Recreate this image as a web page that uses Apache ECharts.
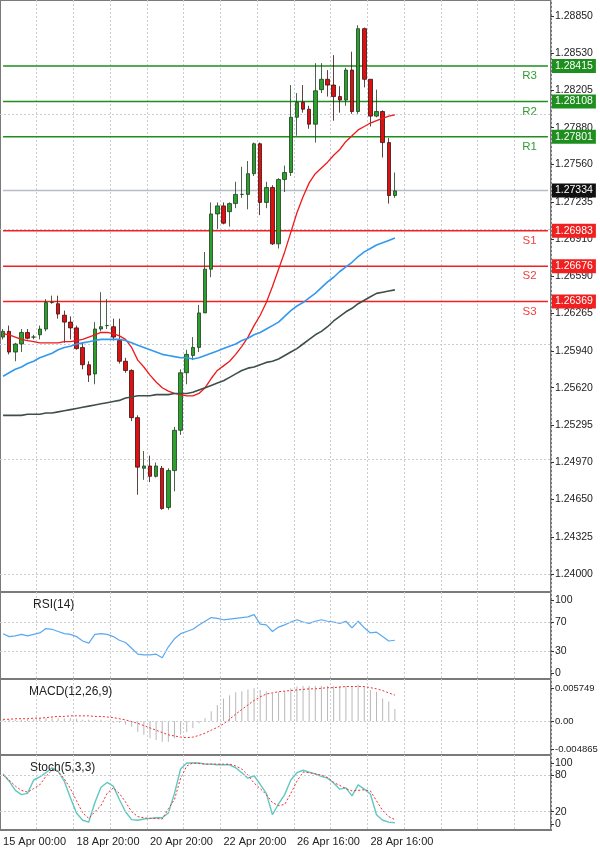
<!DOCTYPE html>
<html><head><meta charset="utf-8">
<script src="https://cdn.jsdelivr.net/npm/echarts@6/dist/echarts.min.js"></script>
<style>html,body{margin:0;padding:0;background:#fff}#c{width:600px;height:848px}</style>
</head><body><div id="c"></div>
<script>
// ---- data ----
const dateLabels = ['15 Apr 00:00','18 Apr 20:00','20 Apr 20:00','22 Apr 20:00','26 Apr 16:00','28 Apr 16:00'];
// [open, close, low, high]
const ohlc = [
[1.2606,1.2611,1.2604,1.2613],[1.2611,1.2593,1.2591,1.2616],[1.2593,1.2600,1.2585,1.2601],[1.2600,1.2610,1.2593,1.2613],
[1.2610,1.2605,1.2604,1.2613],[1.2606,1.2606,1.2604,1.2608],[1.2608,1.2613,1.2604,1.2616],[1.2613,1.2636,1.2611,1.2639],
[1.2636,1.2636,1.2635,1.2642],[1.2635,1.2626,1.2622,1.2642],[1.2625,1.2619,1.2601,1.2629],[1.2619,1.2614,1.2604,1.2624],
[1.2614,1.2596,1.2595,1.2616],[1.2597,1.2582,1.2578,1.2601],[1.2582,1.2573,1.2567,1.2585],[1.2574,1.2613,1.2565,1.2619],
[1.2613,1.2615,1.2611,1.2645],[1.2616,1.2616,1.2613,1.2639],[1.2615,1.2606,1.2603,1.2622],[1.2603,1.2585,1.2583,1.2622],
[1.2585,1.2577,1.2575,1.2588],[1.2577,1.2536,1.2533,1.2578],[1.2536,1.2493,1.2469,1.2538],[1.2492,1.2494,1.2482,1.2507],
[1.2494,1.2485,1.2480,1.2503],[1.2485,1.2494,1.2484,1.2497],[1.2492,1.2457,1.2456,1.2494],[1.2458,1.2490,1.2456,1.2492],
[1.2490,1.2525,1.2472,1.2528],[1.2525,1.2575,1.2521,1.2578],[1.2575,1.2591,1.2565,1.2595],[1.2590,1.2597,1.2586,1.2606],
[1.2597,1.2627,1.2593,1.2634],[1.2627,1.2665,1.2627,1.2680],[1.2665,1.2713,1.2658,1.2723],[1.2713,1.2720,1.2700,1.2723],
[1.2720,1.2705,1.2704,1.2723],[1.2715,1.2722,1.2702,1.2723],[1.2722,1.2730,1.2718,1.2741],[1.2730,1.2730,1.2727,1.2754],
[1.2730,1.2748,1.2717,1.2759],[1.2748,1.2774,1.2746,1.2775],[1.2774,1.2723,1.2712,1.2775],[1.2723,1.2736,1.2718,1.2741],
[1.2736,1.2687,1.2686,1.2738],[1.2687,1.2743,1.2683,1.2744],[1.2743,1.2749,1.2732,1.2755],[1.2749,1.2797,1.2746,1.2825],
[1.2797,1.2810,1.2781,1.2818],[1.2810,1.2804,1.2801,1.2825],[1.2804,1.2791,1.2787,1.2807],[1.2791,1.2820,1.2775,1.2844],
[1.2821,1.2830,1.2818,1.2844],[1.2830,1.2825,1.2815,1.2838],[1.2825,1.2815,1.2794,1.2851],[1.2815,1.2812,1.2801,1.2824],
[1.2812,1.2838,1.2807,1.2840],[1.2838,1.2802,1.2800,1.2854],[1.2802,1.2874,1.2800,1.2877],[1.2874,1.2830,1.2823,1.2875],
[1.2830,1.2798,1.2789,1.2830],[1.2798,1.2802,1.2797,1.2821],[1.2802,1.2775,1.2762,1.2803],[1.2775,1.2729,1.2722,1.2779],
[1.2729,1.2733,1.2727,1.2749]
];
const maRed = [1.2609,1.2608,1.2606,1.2604,1.2603,1.2602,1.2601,1.2601,1.2601,1.2601,
1.2602,1.2602,1.2603,1.2604,1.2606,1.2608,1.2610,1.2610,1.2609,1.2607,
1.2604,1.2597,1.2586,1.2580,1.2573,1.2567,1.2562,1.2559,1.2557,1.2556,
1.2555,1.2555,1.2557,1.2562,1.2570,1.2577,1.2581,1.2585,1.2591,1.2598,
1.2606,1.2616,1.2625,1.2636,1.2650,1.2665,1.2680,1.2697,1.2714,1.2728,
1.2740,1.2748,1.2753,1.2758,1.2764,1.2769,1.2776,1.2781,1.2786,1.2789,
1.2792,1.2794,1.2796,1.2798,1.2799];
const maBlue = [1.2572,1.2575,1.2578,1.2580,1.2583,1.2585,1.2588,1.2590,1.2592,1.2595,
1.2597,1.2598,1.2600,1.2601,1.2602,1.2603,1.2604,1.2604,1.2604,1.2604,
1.2603,1.2601,1.2599,1.2597,1.2595,1.2593,1.2591,1.2590,1.2589,1.2588,
1.2588,1.2587,1.2588,1.2590,1.2592,1.2594,1.2596,1.2598,1.2600,1.2603,
1.2605,1.2608,1.2610,1.2613,1.2616,1.2619,1.2624,1.2629,1.2633,1.2636,
1.2640,1.2644,1.2649,1.2654,1.2658,1.2663,1.2667,1.2671,1.2676,1.2680,
1.2683,1.2686,1.2688,1.2690,1.2692];
const maGrey = [1.2538,1.2538,1.2538,1.2538,1.2539,1.2539,1.2539,1.2540,1.2540,1.2541,
1.2542,1.2543,1.2544,1.2545,1.2546,1.2547,1.2548,1.2549,1.2550,1.2551,
1.2553,1.2554,1.2555,1.2555,1.2555,1.2556,1.2556,1.2556,1.2557,1.2557,
1.2557,1.2558,1.2560,1.2562,1.2564,1.2566,1.2568,1.2571,1.2574,1.2577,
1.2579,1.2580,1.2582,1.2584,1.2585,1.2587,1.2590,1.2593,1.2596,1.2600,
1.2604,1.2608,1.2611,1.2615,1.2620,1.2624,1.2628,1.2631,1.2635,1.2638,
1.2641,1.2644,1.2645,1.2646,1.2647];
const rsi = [54,50,51,53,51,53,55,61,60,57,54,53,50,44,41,53,54,53,50,45,42,34,26,25,25,26,21,36,47,54,
57,60,66,71,76,75,73,74,75,76,77,80,67,66,57,63,66,70,73,70,68,71,73,71,70,68,71,62,71,62,55,56,50,44,45];
const macdHist = [0.0002,0.0002,0.0002,0.0002,0.0003,0.0003,0.0005,0.0005,0.0005,0.0005,0.0005,0.0005,0.0004,0.0002,0.0002,0.0002,0.0002,0.0001,-0.0003,-0.0003,
-0.0006,-0.0010,-0.0019,-0.0024,-0.0030,-0.0033,-0.0036,-0.0036,-0.0030,-0.0024,-0.0019,-0.0012,-0.0004,0.0005,0.0017,0.0028,0.0039,0.0045,0.0050,0.0052,
0.0055,0.0057,0.0054,0.0052,0.0048,0.0050,0.0052,0.0057,0.0060,0.0061,0.0061,0.0061,0.0061,0.0061,0.0061,0.0061,0.0061,0.0060,0.0063,0.0060,
0.0054,0.0051,0.0039,0.0034,0.0021];
const macdSignal = [0.0003,0.0003,0.0004,0.0004,0.0004,0.0005,0.0005,0.0006,0.0007,0.0008,0.0008,0.0009,0.0009,0.0009,0.0009,0.0008,0.0008,0.0007,0.0006,0.0004,
0.0002,-0.0001,-0.0004,-0.0008,-0.0012,-0.0016,-0.0020,-0.0024,-0.0026,-0.0028,-0.0029,-0.0028,-0.0025,-0.0021,-0.0016,-0.0011,-0.0005,0.0003,0.0012,0.0020,
0.0028,0.0036,0.0042,0.0047,0.0049,0.0051,0.0052,0.0053,0.0054,0.0055,0.0056,0.0056,0.0057,0.0058,0.0058,0.0059,0.0060,0.0060,0.0060,0.0060,
0.0058,0.0056,0.0053,0.0049,0.0045];
const stochK = [82,70,55,48,50,72,77,84,92,86,70,43,18,6,3,35,60,68,62,40,20,7,6,8,9,10,10,18,50,90,
100,100,100,98,98,97,97,97,92,84,75,79,65,50,15,33,48,72,84,88,85,82,78,75,67,57,59,46,64,57,49,15,6,3,2];
const stochD = [80,72,62,55,52,58,64,78,88,86,74,58,38,18,9,20,30,50,59,50,36,20,12,10,9,9,8,25,40,75,
95,100,99,98,98,98,98,98,95,90,80,67,58,48,35,30,32,50,70,85,84,82,80,76,68,63,58,54,55,56,54,38,22,12,7];
const levelsR = [['R3',1.28415],['R2',1.28108],['R1',1.27801]];
const levelsS = [['S1',1.26983],['S2',1.26676],['S3',1.26369]];
const lastPrice = 1.27334;
const priceTicks = [1.28850,1.28530,1.28205,1.27880,1.27560,1.27235,1.26910,1.26590,1.26265,1.25940,1.25620,1.25295,1.24970,1.24650,1.24325,1.24000];
const rsiTicks = [100,70,30,0];
const macdTicks = [0.005749,0,-0.004865];
const stochTicks = [100,80,20,0];
const NCAT = 90;

// ---- build ----
const cats = [];
for (let i = 0; i < NCAT; i++) cats.push(i % 12 === 0 && dateLabels[i/12] ? dateLabels[i/12] : ' ' + i);
const font = 'DejaVu Sans';
const axFont = 'Liberation Sans';
const gridCol = '#c9ccd3';
function gridLines(vals){ return vals.map(v=>({yAxis:v})); }
function xAx(gi, showLabel){
  return {type:'category', gridIndex:gi, data:cats, boundaryGap:true,
    axisLine:{show:false}, axisTick:{show:false},
    axisLabel:{show:showLabel, interval:(i)=>i%12===0 && i<72, align:'left', margin:6, color:'#222', fontSize:11, fontFamily:axFont,
      formatter:(v)=>v.trim().match(/^\d+$/)?'':v},
    splitLine:{show:true, interval:(i)=>i%6===0 && i>0, lineStyle:{color:gridCol, type:[2,2]}}};
}
function yAx(gi, min, max, ticks, fmt, fs){
  return {type:'value', gridIndex:gi, position:'right', min, max, scale:true,
    axisLine:{show:false}, splitLine:{show:false},
    axisTick:{show:true, customValues:ticks, length:3, lineStyle:{color:'#333'}},
    axisLabel:{customValues:ticks, color:'#222', fontSize:fs||10.5, fontFamily:axFont, margin:4, formatter:fmt}};
}
const gridStyle = {show:true, borderColor:'#7a7a7a', borderWidth:2, left:0, right:49, containLabel:false, outerBoundsMode:'none'};
const markSilent = {silent:true, symbol:['none','none'], animation:false};

const series = [
  {type:'line', xAxisIndex:0, yAxisIndex:0, data:[], markLine:Object.assign({data:gridLines(priceTicks), label:{show:false}, lineStyle:{color:gridCol, type:[2,2], width:1}}, markSilent)},
  {type:'candlestick', xAxisIndex:0, yAxisIndex:0, data:ohlc, barWidth:4, z:5,
    itemStyle:{color:'#2ca02c', color0:'#e01010', borderColor:'#1f3d1f', borderColor0:'#3a1010', borderWidth:0.8}}
];
// level lines drawn as flat line series across all categories
function addLevel(name, v, color, textColor, boxColor, z){
  const data = cats.map((c,i)=> i === NCAT-4 && name ?
    {value:v, label:{show:true, position:'bottom', distance:4, formatter:name, color:textColor, fontSize:11.5, fontFamily:axFont}} : v);
  series.push({type:'line', xAxisIndex:0, yAxisIndex:0, data, z, silent:true,
    showSymbol:true, symbol:'circle', symbolSize:0, lineStyle:{color, width:1.5},
    endLabel:{show:true, distance:4, formatter:v.toFixed(5), color:'#fff', backgroundColor:boxColor, padding:[2,3,1,3], fontSize:10.5, fontFamily:axFont}});
}
levelsR.forEach(([n,v])=>addLevel(n,v,'#1e8e1e','#2e9e2e','#1e8e1e',4));
levelsS.forEach(([n,v])=>addLevel(n,v,'#f02020','#f04040','#f02020',4));
addLevel('', lastPrice, '#b8bcc4', '#000', '#111', 2);
series.push(
  {type:'line', xAxisIndex:0, yAxisIndex:0, data:maRed, showSymbol:false, lineStyle:{color:'#f01818', width:1.3}, z:6},
  {type:'line', xAxisIndex:0, yAxisIndex:0, data:maBlue, showSymbol:false, lineStyle:{color:'#3399ee', width:1.6}, z:6},
  {type:'line', xAxisIndex:0, yAxisIndex:0, data:maGrey, showSymbol:false, lineStyle:{color:'#3f4f4a', width:1.6}, z:6},
  {type:'line', xAxisIndex:1, yAxisIndex:1, data:rsi, showSymbol:false, lineStyle:{color:'#5aa9f0', width:1.2},
    markLine:Object.assign({data:gridLines([70,30]), label:{show:false}, lineStyle:{color:gridCol, type:[2,2], width:1}}, markSilent)},
  {type:'bar', xAxisIndex:2, yAxisIndex:2, data:macdHist, barWidth:1, itemStyle:{color:'#b8b8b8'},
    markLine:Object.assign({data:gridLines([0]), label:{show:false}, lineStyle:{color:gridCol, type:[2,2], width:1}}, markSilent)},
  {type:'line', xAxisIndex:2, yAxisIndex:2, data:macdSignal, showSymbol:false, lineStyle:{color:'#f03030', width:1, type:[2,2]}},
  {type:'line', xAxisIndex:3, yAxisIndex:3, data:stochK, showSymbol:false, lineStyle:{color:'#5fc8c0', width:1.4},
    markLine:Object.assign({data:gridLines([80,20]), label:{show:false}, lineStyle:{color:gridCol, type:[2,2], width:1}}, markSilent)},
  {type:'line', xAxisIndex:3, yAxisIndex:3, data:stochD, showSymbol:false, lineStyle:{color:'#f03030', width:1, type:[2,2]}}
);

const chart = echarts.init(document.getElementById('c'));
chart.setOption({
  animation:false,
  backgroundColor:'#fff',
  textStyle:{fontFamily:font},
  grid:[
    Object.assign({top:0, height:592}, gridStyle),
    Object.assign({top:592, height:87}, gridStyle),
    Object.assign({top:679, height:76}, gridStyle),
    Object.assign({top:755, height:75}, gridStyle)
  ],
  xAxis:[xAx(0,false), xAx(1,false), xAx(2,false), xAx(3,true)],
  yAxis:[
    yAx(0, 1.23845, 1.28989, priceTicks, v=>v.toFixed(5)),
    yAx(1, -8, 111, rsiTicks, v=>String(v)),
    yAx(2, -0.00591, 0.00731, macdTicks, v=>v===0?'0.00':v.toFixed(6), 9.5),
    yAx(3, -10, 113, stochTicks, v=>String(v))
  ],
  title:[
    {text:'RSI(14)', left:28, top:594, textStyle:{fontSize:12, fontWeight:'normal', color:'#222', fontFamily:axFont}},
    {text:'MACD(12,26,9)', left:24, top:681, textStyle:{fontSize:12, fontWeight:'normal', color:'#222', fontFamily:axFont}},
    {text:'Stoch(5,3,3)', left:25, top:757, textStyle:{fontSize:12, fontWeight:'normal', color:'#222', fontFamily:axFont}}
  ],
  series
});
</script></body></html>
